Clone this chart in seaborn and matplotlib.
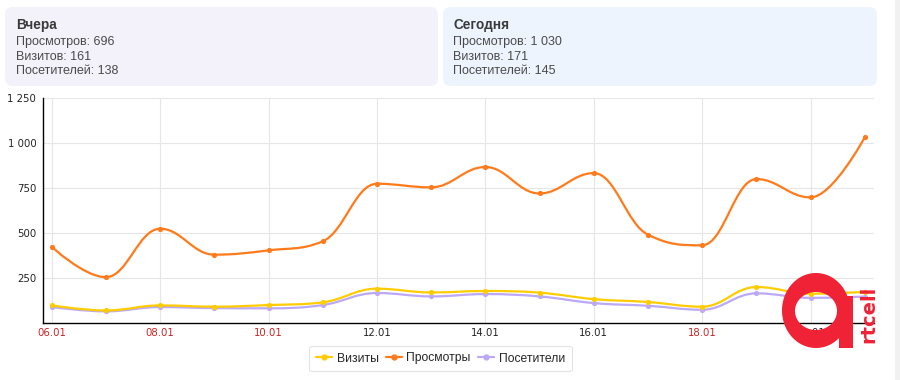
import numpy as np
import matplotlib
matplotlib.use("Agg")
import matplotlib.pyplot as plt
import matplotlib.patches as mpatches
from matplotlib.path import Path
from matplotlib.lines import Line2D
import pandas as pd
import seaborn as sns

# data
dates = ["06.01", "07.01", "08.01", "09.01", "10.01", "11.01", "12.01", "13.01",
         "14.01", "15.01", "16.01", "17.01", "18.01", "19.01", "20.01", "21.01"]
visits = [96, 68, 96, 89, 98, 113, 189, 168, 176, 167, 131, 115, 89, 198, 161, 171]
views = [422, 253, 522, 378, 402, 452, 772, 752, 865, 718, 831, 489, 430, 798, 696, 1030]
visitors = [87, 63, 87, 81, 80, 98, 165, 146, 159, 146, 109, 94, 72, 163, 138, 145]
red_days = ["06.01", "08.01", "10.01", "18.01"]
yticks = [250, 500, 750, 1000, 1250]

yesterday = ["Просмотров: 696", "Визитов: 161", "Посетителей: 138"]
today = ["Просмотров: 1 030", "Визитов: 171", "Посетителей: 145"]

series = [("Посетители", visitors, "#bba9f7"),
          ("Визиты", visits, "#ffcc00"),
          ("Просмотры", views, "#ff7a1a")]
legend_order = ["Визиты", "Просмотры", "Посетители"]

sns.set_style("white")
plt.rcParams["font.family"] = ["DejaVu Sans"]


def spline_path(xs, ys, smoothing=1.5):
    # highcharts-like spline: cubic bezier between the points
    n = len(xs)
    lc = [(xs[i], ys[i]) for i in range(n)]
    rc = [(xs[i], ys[i]) for i in range(n)]
    d = smoothing + 1
    for i in range(1, n - 1):
        px, py = xs[i], ys[i]
        lx, ly = xs[i - 1], ys[i - 1]
        nx, ny = xs[i + 1], ys[i + 1]
        lcx = (smoothing * px + lx) / d
        lcy = (smoothing * py + ly) / d
        rcx = (smoothing * px + nx) / d
        rcy = (smoothing * py + ny) / d
        corr = (rcy - lcy) * (rcx - px) / (rcx - lcx) + py - rcy
        lcy += corr
        rcy += corr
        if lcy > ly and lcy > py:
            lcy = max(ly, py); rcy = 2 * py - lcy
        elif lcy < ly and lcy < py:
            lcy = min(ly, py); rcy = 2 * py - lcy
        if rcy > ny and rcy > py:
            rcy = max(ny, py); lcy = 2 * py - rcy
        elif rcy < ny and rcy < py:
            rcy = min(ny, py); lcy = 2 * py - rcy
        lc[i] = (lcx, lcy)
        rc[i] = (rcx, rcy)
    verts = [(xs[0], ys[0])]
    codes = [Path.MOVETO]
    for i in range(1, n):
        verts += [rc[i - 1], lc[i], (xs[i], ys[i])]
        codes += [Path.CURVE4] * 3
    return Path(verts, codes)


fig = plt.figure(figsize=(9, 3.8), dpi=100)

# background overlay in pixel coordinates (cards, scrollbar strip)
bg = fig.add_axes([0, 0, 1, 1], zorder=0)
bg.set_xlim(0, 900)
bg.set_ylim(380, 0)
bg.axis("off")
bg.add_patch(mpatches.FancyBboxPatch((5, 7), 433, 79, boxstyle="round,pad=0,rounding_size=8",
                                     fc="#f3f1fa", ec="none"))
bg.add_patch(mpatches.FancyBboxPatch((443, 7), 434, 79, boxstyle="round,pad=0,rounding_size=8",
                                     fc="#eef4fe", ec="none"))
bg.add_patch(mpatches.Rectangle((895, 0), 5, 380, fc="#f1f1f1", ec="none"))

for x0, title, lines in [(16, "Вчера", yesterday), (453, "Сегодня", today)]:
    bg.text(x0, 24.5, title, fontsize=9.8, color="#3a3a3a", fontweight="bold",
            family="Liberation Sans", va="center")
    for k, line in enumerate(lines):
        bg.text(x0, 42 + k * 14.7, line, fontsize=9, color="#4a4a4a",
                family="Liberation Sans", va="center")

# main chart
ax = fig.add_axes([43.3 / 900, (380 - 322.7) / 380, (874 - 43.3) / 900, (322.7 - 97.7) / 380],
                  zorder=1)
ax.patch.set_alpha(0)
idx = list(range(len(dates)))

for name, vals, col in series:
    ax.add_patch(mpatches.PathPatch(spline_path(idx, vals), fc="none", ec=col, lw=1.6,
                                    zorder=3, capstyle="round", joinstyle="round"))
    df = pd.DataFrame({"x": idx, "y": vals})
    sns.scatterplot(data=df, x="x", y="y", ax=ax, color=col, s=14, linewidth=0, zorder=4,
                    legend=False)

ax.set_xlim(-0.155, 15.17)
ax.set_ylim(0, 1250)
ax.set_xticks(idx[::2])
ax.set_xticklabels(dates[::2])
ax.set_yticks(yticks)
ax.set_yticklabels([f"{v:,}".replace(",", " ") for v in yticks])
ax.set_xlabel("")
ax.set_ylabel("")
ax.tick_params(axis="both", length=0, labelsize=7.3, colors="#222222")
ax.tick_params(axis="y", pad=5)
ax.tick_params(axis="x", pad=4)
for lab in ax.get_xticklabels():
    if lab.get_text() in red_days:
        lab.set_color("#cc2222")
ax.grid(True, color="#e6e6e6", lw=0.8)
ax.set_axisbelow(True)
for s in ["top", "right"]:
    ax.spines[s].set_visible(False)
for s in ["left", "bottom"]:
    ax.spines[s].set_color("#000000")
    ax.spines[s].set_linewidth(1.0)

cols = {name: col for name, _, col in series}
handles = [Line2D([0], [0], color=cols[n], lw=1.6, marker="o", markersize=3.5) for n in legend_order]
leg = fig.legend(handles, legend_order, loc="center", bbox_to_anchor=(440.5 / 900, (380 - 358.5) / 380),
                 ncol=3, frameon=True, fancybox=True, edgecolor="#dddddd",
                 handlelength=1.3, handletextpad=0.4, columnspacing=0.6, borderpad=0.55,
                 borderaxespad=0, prop={"family": "Liberation Sans", "size": 8.7})
leg.get_frame().set_linewidth(0.8)

# logo overlay
fg = fig.add_axes([0, 0, 1, 1], zorder=5)
fg.set_xlim(0, 900)
fg.set_ylim(380, 0)
fg.axis("off")
t = np.linspace(0, 2 * np.pi, 120)
outer = np.column_stack([816 + 34 * np.cos(t), 310.5 + 37.5 * np.sin(t)])
inner = np.column_stack([816 + 21 * np.cos(t), 311 + 19 * np.sin(t)])[::-1]
verts = np.vstack([outer, inner])
codes = [Path.MOVETO] + [Path.LINETO] * (len(outer) - 1) + [Path.MOVETO] + [Path.LINETO] * (len(inner) - 1)
fg.add_patch(mpatches.PathPatch(Path(verts, codes), fc="#f02236", ec="none"))
fg.add_patch(mpatches.Rectangle((839, 296), 14, 52, fc="#f02236", ec="none"))
fg.text(868.5, 314, "rtcell", rotation=90, color="#f02236", fontsize=14, fontweight="bold",
        ha="center", va="center", family="DejaVu Sans")

fig.savefig("out.png", dpi=100)
